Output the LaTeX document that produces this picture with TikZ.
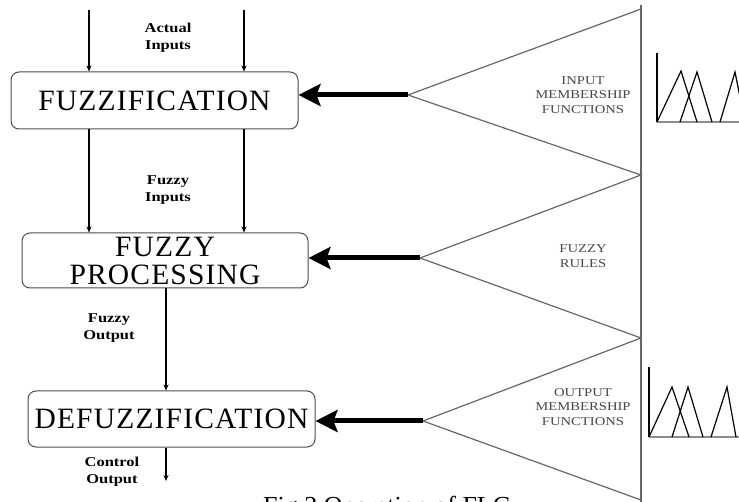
\documentclass[tikz,border=0pt]{standalone}
\usepackage{fontspec}
\setmainfont{Liberation Serif}
\newfontfamily\labfont[FakeStretch=1.22]{Liberation Serif}
\newfontfamily\bigfont[LetterSpace=4]{Liberation Serif}
\usetikzlibrary{arrows.meta}
\begin{document}
\begin{tikzpicture}[x=1pt,y=-1pt,
  box/.style={draw=black!70, line width=1pt, rounded corners=8pt, inner sep=0pt},
  thinarrow/.style={line width=1.3pt, -{Stealth[length=6pt,width=5pt]}},
  thickarrow/.style={line width=5pt, -{Stealth[length=22pt,width=22pt,inset=4pt]}},
  fan/.style={draw=black!60, line width=1.2pt},
  lab/.style={font=\labfont\bfseries\fontsize{13.5}{17.5}\selectfont, align=center},
  glab/.style={font=\labfont\fontsize{12}{14.5}\selectfont, text=black!72, align=center},
  big/.style={font=\bigfont\fontsize{29.5}{28}\selectfont, align=center},
  mf/.style={line width=1.2pt},
  mfbase/.style={draw=black!45, line width=1.5pt}
]
\useasboundingbox (0,0) rectangle (739,502);

% boxes
\node[box, minimum width=287pt, minimum height=57pt] (fuzz) at (154.5,100.5) {};
\node[big] (fuzzt) at (fuzz.center) {FUZZIFICATION};
\node[box, minimum width=286pt, minimum height=55pt] (proc) at (165,260.5) {};
\node[big] (proct) at (proc.center) {FUZZY\\PROCESSING};
\node[box, minimum width=287pt, minimum height=56pt] (defuzz) at (171.5,419) {};
\node[big] (defuzzt) at (defuzz.center) {DEFUZZIFICATION};

% thin connectors
\coordinate (in1) at (89,10);
\coordinate (in2) at (244,10);
\draw[thinarrow] (in1) -- (in1 |- fuzz.north);
\draw[thinarrow] (in2) -- (in2 |- fuzz.north);
\draw[thinarrow] (fuzz.south -| in1) -- (proc.north -| in1);
\draw[thinarrow] (fuzz.south -| in2) -- (proc.north -| in2);
\coordinate (mid) at (166,0);
\draw[thinarrow] (proc.south -| mid) -- (defuzz.north -| mid);
\coordinate (out) at (166,481);
\draw[thinarrow] (defuzz.south -| out) -- (out);

% labels
\node[lab] (actual) at (168,38) {Actual\\Inputs};
\node[lab] (finputs) at (168,190) {Fuzzy\\Inputs};
\node[lab] (foutput) at (109,328) {Fuzzy\\Output};
\node[lab] (control) at (112,472) {Control\\Output};

% fans
\coordinate (a1) at (408,95);
\coordinate (a2) at (420,258);
\coordinate (a3) at (423,421);
\coordinate (v0) at (641,9);
\coordinate (v1) at (641,175);
\coordinate (v2) at (641,338);
\coordinate (v3) at (641,500);
\coordinate (vtop) at (641,5);
\coordinate (vbot) at (641,502);
\draw[fan] (vtop) -- (vbot);
\draw[fan] (v0) -- (a1) -- (v1) -- (a2) -- (v2) -- (a3) -- (v3);

\draw[thickarrow] (a1) -- (fuzz.east |- a1);
\draw[thickarrow] (a2) -- (proc.east |- a2);
\draw[thickarrow] (a3) -- (defuzz.east |- a3);

\node[glab] (imf) at (583,95) {INPUT\\MEMBERSHIP\\FUNCTIONS};
\node[glab] (rules) at (583,256) {FUZZY\\RULES};
\node[glab] (omf) at (583,407) {OUTPUT\\MEMBERSHIP\\FUNCTIONS};

% membership function plots
\draw[mfbase] (657,122) -- (739,122);
\draw[mf] (657,53) -- (657,122);
\draw[mf] (657,122) -- (681,71) -- (697,122);
\draw[mf] (680,122) -- (697,72) -- (712,122);
\draw[mf] (720,122) -- (735,72) -- (745,122);

\draw[mfbase] (649,437) -- (739,437);
\draw[mf] (649,367) -- (649,437);
\draw[mf] (649,437) -- (672,387) -- (689,437);
\draw[mf] (672,437) -- (688,387) -- (703,437);
\draw[mf] (711,437) -- (727,387) -- (736,437);

% caption (cut off at the bottom edge, as in the reference)
\node[anchor=base west, font=\fontsize{26}{26}\selectfont, inner sep=0pt] (cap) at (263,514) {Fig.2 Operation of FLC};
\end{tikzpicture}
\end{document}
